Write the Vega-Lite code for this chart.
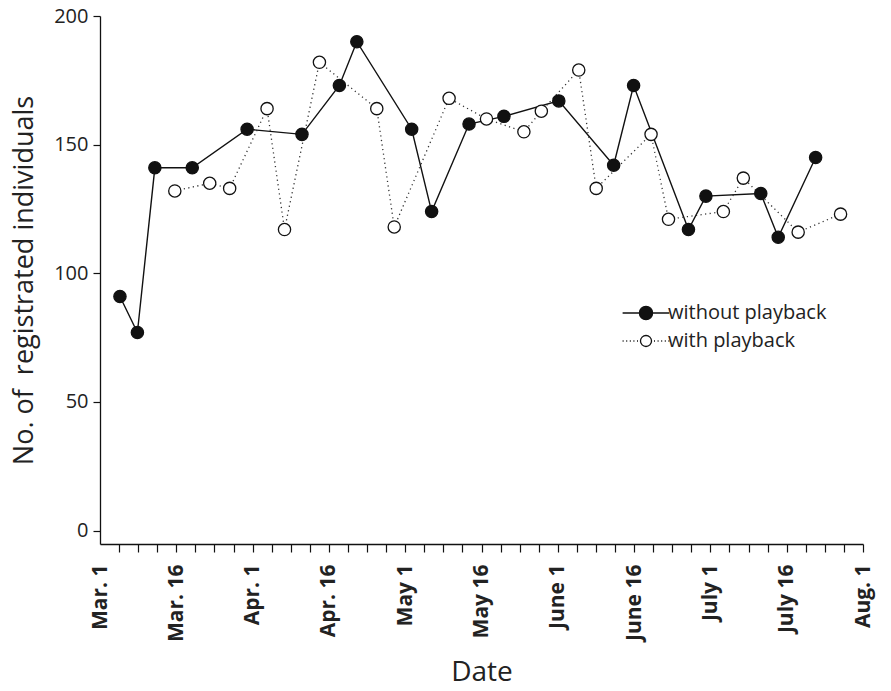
{
  "$schema": "https://vega.github.io/schema/vega-lite/v6.json",
  "width": 763,
  "height": 528,
  "autosize": {"type": "none"},
  "padding": {"left": 100, "top": 16, "right": 28, "bottom": 147},
  "background": "white",
  "config": {
    "view": {"stroke": null},
    "font": "Open Sans",
    "axis": {"grid": false, "domainColor": "#111", "tickColor": "#111", "domainWidth": 1.3, "tickWidth": 1.2, "labelColor": "#222", "titleColor": "#222", "labelFont": "Open Sans", "titleFont": "Open Sans", "titleFontWeight": "normal"}
  },
  "data": {
    "values": [
      {"date": "2010-03-05T00:00:00Z", "series": "without playback", "value": 91},
      {"date": "2010-03-08T12:00:00Z", "series": "without playback", "value": 77},
      {"date": "2010-03-12T00:00:00Z", "series": "without playback", "value": 141},
      {"date": "2010-03-19T12:00:00Z", "series": "without playback", "value": 141},
      {"date": "2010-03-30T12:00:00Z", "series": "without playback", "value": 156},
      {"date": "2010-04-10T12:00:00Z", "series": "without playback", "value": 154},
      {"date": "2010-04-18T00:00:00Z", "series": "without playback", "value": 173},
      {"date": "2010-04-21T12:00:00Z", "series": "without playback", "value": 190},
      {"date": "2010-05-02T12:00:00Z", "series": "without playback", "value": 156},
      {"date": "2010-05-06T12:00:00Z", "series": "without playback", "value": 124},
      {"date": "2010-05-14T00:00:00Z", "series": "without playback", "value": 158},
      {"date": "2010-05-21T00:00:00Z", "series": "without playback", "value": 161},
      {"date": "2010-06-01T00:00:00Z", "series": "without playback", "value": 167},
      {"date": "2010-06-12T00:00:00Z", "series": "without playback", "value": 142},
      {"date": "2010-06-16T00:00:00Z", "series": "without playback", "value": 173},
      {"date": "2010-06-27T00:00:00Z", "series": "without playback", "value": 117},
      {"date": "2010-06-30T12:00:00Z", "series": "without playback", "value": 130},
      {"date": "2010-07-11T12:00:00Z", "series": "without playback", "value": 131},
      {"date": "2010-07-15T00:00:00Z", "series": "without playback", "value": 114},
      {"date": "2010-07-22T12:00:00Z", "series": "without playback", "value": 145},
      {"date": "2010-03-16T00:00:00Z", "series": "with playback", "value": 132},
      {"date": "2010-03-23T00:00:00Z", "series": "with playback", "value": 135},
      {"date": "2010-03-27T00:00:00Z", "series": "with playback", "value": 133},
      {"date": "2010-04-03T12:00:00Z", "series": "with playback", "value": 164},
      {"date": "2010-04-07T00:00:00Z", "series": "with playback", "value": 117},
      {"date": "2010-04-14T00:00:00Z", "series": "with playback", "value": 182},
      {"date": "2010-04-25T12:00:00Z", "series": "with playback", "value": 164},
      {"date": "2010-04-29T00:00:00Z", "series": "with playback", "value": 118},
      {"date": "2010-05-10T00:00:00Z", "series": "with playback", "value": 168},
      {"date": "2010-05-17T12:00:00Z", "series": "with playback", "value": 160},
      {"date": "2010-05-25T00:00:00Z", "series": "with playback", "value": 155},
      {"date": "2010-05-28T12:00:00Z", "series": "with playback", "value": 163},
      {"date": "2010-06-05T00:00:00Z", "series": "with playback", "value": 179},
      {"date": "2010-06-08T12:00:00Z", "series": "with playback", "value": 133},
      {"date": "2010-06-19T12:00:00Z", "series": "with playback", "value": 154},
      {"date": "2010-06-23T00:00:00Z", "series": "with playback", "value": 121},
      {"date": "2010-07-04T00:00:00Z", "series": "with playback", "value": 124},
      {"date": "2010-07-08T00:00:00Z", "series": "with playback", "value": 137},
      {"date": "2010-07-19T00:00:00Z", "series": "with playback", "value": 116},
      {"date": "2010-07-27T12:00:00Z", "series": "with playback", "value": 123}
    ]
  },
  "encoding": {
    "x": {
      "field": "date",
      "type": "temporal",
      "scale": {"type": "utc", "domain": [{"year": 2010, "month": 3, "date": 1, "utc": true}, {"year": 2010, "month": 8, "date": 1, "utc": true}], "nice": false},
      "axis": {
        "title": "Date",
        "titleFontSize": 28,
        "titlePadding": 17,
        "values": [1267401600000, 1267732080000, 1268062560000, 1268393040000, 1268723520000, 1269054000000, 1269384480000, 1269714960000, 1270045440000, 1270375920000, 1270706400000, 1271036880000, 1271367360000, 1271697840000, 1272028320000, 1272358800000, 1272689280000, 1273019760000, 1273350240000, 1273680720000, 1274011200000, 1274341680000, 1274672160000, 1275002640000, 1275333120000, 1275663600000, 1275994080000, 1276324560000, 1276655040000, 1276985520000, 1277316000000, 1277646480000, 1277976960000, 1278307440000, 1278637920000, 1278968400000, 1279298880000, 1279629360000, 1279959840000, 1280290320000, 1280620800000],
        "labelExpr": "['Mar. 1','Mar. 16','Apr. 1','Apr. 16','May 1','May 16','June 1','June 16','July 1','July 16','Aug. 1'][round((datum.value - 1267401600000) / 330480000) / 4] || ''",
        "labelAngle": 270,
        "labelFontSize": 21,
        "labelFontWeight": "bold",
        "labelColor": "#222",
        "labelOverlap": false,
        "labelPadding": 12,
        "labelFlush": false,
        "tickSize": 8,
        "tickOpacity": {"condition": {"test": "datum.value < 1267401700000", "value": 0}, "value": 1}
      }
    },
    "y": {
      "field": "value",
      "type": "quantitative",
      "scale": {"domain": [-5.2, 200], "nice": false, "zero": false},
      "axis": {
        "title": "No. of \u00a0registrated individuals",
        "titleFontSize": 27,
        "titlePadding": 15,
        "values": [0, 50, 100, 150, 200],
        "labelFontSize": 20,
        "labelPadding": 5,
        "tickSize": 7
      }
    }
  },
  "layer": [
    {
      "transform": [{"filter": "datum.series === 'without playback'"}],
      "mark": {"type": "line", "strokeWidth": 1.4, "color": "#111"}
    },
    {
      "transform": [{"filter": "datum.series === 'with playback'"}],
      "mark": {"type": "line", "strokeWidth": 1.3, "color": "#333", "strokeDash": [1.2, 3.4]}
    },
    {
      "mark": {"type": "point", "filled": true, "size": 150, "stroke": "#111", "strokeWidth": 1.3, "opacity": 1},
      "encoding": {
        "fill": {
          "field": "series",
          "type": "nominal",
          "scale": {"domain": ["without playback", "with playback"], "range": ["#111111", "#ffffff"]},
          "legend": {
            "title": null,
            "orient": "none",
            "legendX": 536,
            "legendY": 287,
            "padding": 0,
            "labelFont": "Open Sans",
            "labelFontSize": 20,
            "labelColor": "#222",
            "labelOffset": 12,
            "rowPadding": 8,
            "symbolSize": 144,
            "encoding": {
              "symbols": {
                "shape": {"condition": {"test": "datum.value === 'with playback'", "value": "M0.92,0C0.92,0.508,0.508,0.92,0,0.92C-0.508,0.92,-0.92,0.508,-0.92,0C-0.92,-0.508,-0.508,-0.92,0,-0.92C0.508,-0.92,0.92,-0.508,0.92,0ZM-3.9,0L-3.73,0M-3.3,0L-3.13,0M-2.7,0L-2.53,0M-2.1,0L-1.93,0M-1.5,0L-1.33,0M1.33,0L1.5,0M1.93,0L2.1,0M2.53,0L2.7,0M3.13,0L3.3,0M3.73,0L3.9,0"}, "value": "M1.1,0C1.1,0.6075,0.6075,1.1,0,1.1C-0.6075,1.1,-1.1,0.6075,-1.1,0C-1.1,-0.6075,-0.6075,-1.1,0,-1.1C0.6075,-1.1,1.1,-0.6075,1.1,0ZM-3.9,0L-1.1,0M1.1,0L3.9,0"},
                "stroke": {"value": "#111"},
                "strokeWidth": {"value": 1.3},
                "opacity": {"value": 1}
              }
            }
          }
        }
      }
    }
  ]
}
